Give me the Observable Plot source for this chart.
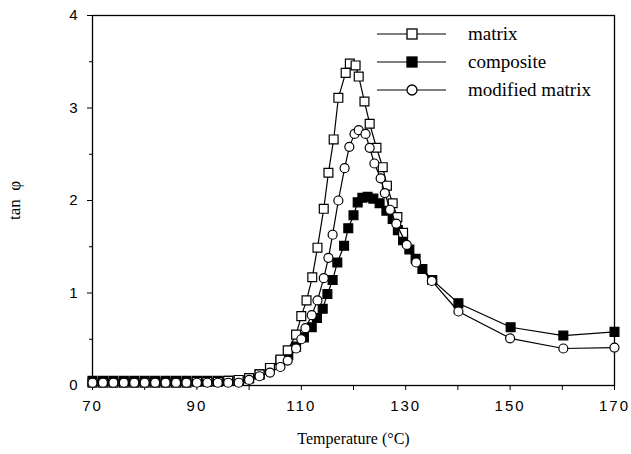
<!DOCTYPE html>
<html>
<head>
<meta charset="utf-8">
<script src="https://cdn.jsdelivr.net/npm/d3@7"></script>
<script src="https://cdn.jsdelivr.net/npm/@observablehq/plot@0.6"></script>
<style>
  body { margin: 0; background: white; }
  #wrap { position: relative; width: 631px; height: 454px; }
  #wrap svg.plot { font-family: "Liberation Sans", Arial, sans-serif; }
  g[aria-label="x-axis tick label"] text, g[aria-label="y-axis tick label"] text {
    font-size: 15px; letter-spacing: 2px;
  }
  g[aria-label="x-axis label"] text {
    font-family: "Liberation Serif", "Times New Roman", serif; font-size: 16px;
  }
  g[aria-label="y-axis label"] text {
    font-family: "Liberation Serif", "Times New Roman", serif; font-size: 17px;
  }
  #legend { position: absolute; left: 377px; top: 20px; font-family: "Liberation Serif", "Times New Roman", serif; font-size: 19px; }
  .row { position: absolute; left: 0; height: 28px; display: flex; align-items: center; white-space: nowrap; }
  .row svg { margin-right: 22px; }
</style>
</head>
<body>
<div id="wrap"></div>
<script>
// Temperature (°C) and tan φ values
const matrixT = [70,72,74,76,78,80,82,84,86,88,90,92,94,96,98,100,102,104,106,107.4,109,110,111,112.1,113.1,114.3,115.2,116.2,117.1,118.5,119.3,120.4,121,122.1,123.1,124.4,125.6,126.4,127.5,128.4,129.5];
const matrixV = [0.03,0.03,0.03,0.03,0.03,0.03,0.03,0.03,0.03,0.03,0.04,0.04,0.04,0.05,0.06,0.08,0.12,0.19,0.28,0.38,0.55,0.75,0.92,1.17,1.49,1.91,2.30,2.66,3.11,3.38,3.48,3.46,3.34,3.07,2.83,2.57,2.36,2.16,1.97,1.82,1.65];

const compositeT = [70,72,74,76,78,80,82,84,86,88,90,92,94,96,98,100,102,104,106,107.5,109,110.5,112,113,114.1,115,116,116.9,118.2,119,120,120.8,121.7,122.7,123.8,125,126.3,127.5,128.5,129.5,130.7,131.9,133.2,135.1,140.1,150.1,160.2,170];
const compositeV = [0.05,0.05,0.05,0.05,0.05,0.05,0.05,0.05,0.05,0.05,0.05,0.05,0.05,0.05,0.06,0.08,0.12,0.19,0.27,0.33,0.42,0.52,0.63,0.73,0.83,0.99,1.14,1.33,1.51,1.70,1.84,1.98,2.03,2.04,2.02,1.97,1.89,1.80,1.68,1.57,1.47,1.37,1.26,1.14,0.89,0.63,0.54,0.58];

const modifiedT = [70,72,74,76,78,80,82,84,86,88,90,92,94,96,98,100,102,104,106,107.4,109,110,110.8,112,113.1,114.3,115.2,116,117.1,118.3,119.2,120.2,121,122.3,123.1,124,125.2,126,127,128.2,130.2,132,135,140.1,150,160.2,170];
const modifiedV = [0.03,0.03,0.03,0.03,0.03,0.03,0.03,0.03,0.03,0.03,0.03,0.03,0.03,0.03,0.03,0.06,0.10,0.14,0.20,0.27,0.40,0.50,0.62,0.76,0.92,1.16,1.38,1.63,2.00,2.35,2.58,2.72,2.76,2.72,2.57,2.40,2.24,2.08,1.90,1.75,1.52,1.33,1.13,0.80,0.51,0.40,0.41];

const seriesNames = ["matrix", "composite", "modified matrix"];
const xTicks = [70,80,90,100,110,120,130,140,150,160,170];
const xTickLabels = [70,90,110,130,150,170];
const yTicks = [0,1,2,3,4];
const yMinorTicks = [0.5,1.5,2.5,3.5];

const rows = (T, V) => T.map((t, i) => ({t, v: V[i]}));
const matrix = rows(matrixT, matrixV);
const composite = rows(compositeT, compositeV);
const modified = rows(modifiedT, modifiedV);

const sw = 1.2;
const chart = Plot.plot({
  width: 631,
  height: 454,
  marginLeft: 92,
  marginRight: 17,
  marginTop: 15,
  marginBottom: 69,
  x: {domain: [70, 170]},
  y: {domain: [0, 4]},
  marks: [
    Plot.frame({stroke: "black", strokeWidth: 1.3}),
    Plot.axisX({ticks: xTicks, tickSize: 5, tickPadding: 10, tickFormat: d => xTickLabels.includes(d) ? String(d) : "",
      label: "Temperature (°C)", labelAnchor: "center", labelOffset: 58, labelArrow: "none"}),
    Plot.axisY({ticks: yTicks, tickSize: 5, tickPadding: 8, tickFormat: d => String(d), label: "tan\u00a0\u00a0φ", labelAnchor: "center", labelOffset: 85, labelArrow: "none"}),
    Plot.axisY({ticks: yMinorTicks, tickSize: 3, tickFormat: () => "", label: null}),
    Plot.line(composite, {x: "t", y: "v", stroke: "black", strokeWidth: sw}),
    Plot.dot(composite, {x: "t", y: "v", symbol: "square", r: 5, fill: "black", stroke: "black", strokeWidth: sw}),
    Plot.line(matrix, {x: "t", y: "v", stroke: "black", strokeWidth: sw}),
    Plot.dot(matrix, {x: "t", y: "v", symbol: "square", r: 5, fill: "white", stroke: "black", strokeWidth: sw}),
    Plot.line(modified, {x: "t", y: "v", stroke: "black", strokeWidth: sw}),
    Plot.dot(modified, {x: "t", y: "v", symbol: "circle", r: 4.5, fill: "white", stroke: "black", strokeWidth: sw})
  ]
});
chart.classList.add("plot");
const wrap = document.getElementById("wrap");
wrap.appendChild(chart);

// legend
const legend = document.createElement("div");
legend.id = "legend";
const markers = [
  `<rect x="30" y="4" width="10" height="10" fill="white" stroke="black" stroke-width="1.3"/>`,
  `<rect x="30" y="4" width="10" height="10" fill="black" stroke="black" stroke-width="1.3"/>`,
  `<circle cx="35" cy="9" r="5" fill="white" stroke="black" stroke-width="1.3"/>`
];
seriesNames.forEach((name, i) => {
  const r = document.createElement("div");
  r.className = "row";
  r.style.top = (i * 28) + "px";
  r.innerHTML = `<svg width="69" height="18"><line x1="0" x2="69" y1="9" y2="9" stroke="black" stroke-width="1.2"/>${markers[i]}</svg><span>${name}</span>`;
  legend.appendChild(r);
});
wrap.appendChild(legend);
</script>
</body>
</html>
